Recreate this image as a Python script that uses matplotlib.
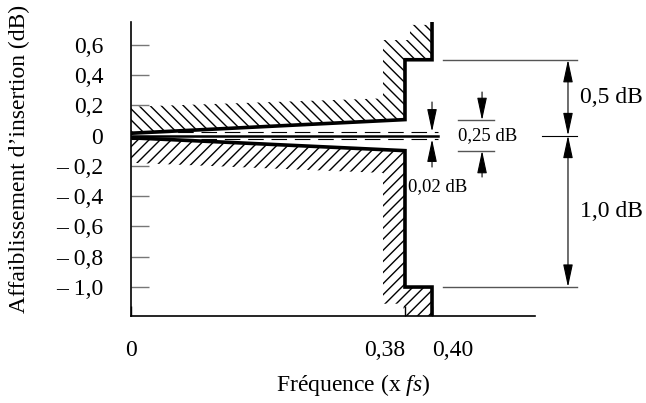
import numpy as np
import matplotlib
matplotlib.use("Agg")
import matplotlib.pyplot as plt

plt.rcParams['font.family'] = ['Liberation Serif', 'DejaVu Serif']
plt.rcParams['mathtext.fontset'] = 'custom'
plt.rcParams['mathtext.rm'] = 'Liberation Serif'
plt.rcParams['mathtext.it'] = 'Liberation Serif:italic'
plt.rcParams['hatch.linewidth'] = 1.0

# gabarit (frequence en x fs, affaiblissement en dB)
mask_f = [0, 0.38, 0.38, 0.40, 0.40]
mask_upper_db = [0.015, 0.105, 0.5, 0.5, 0.75]
mask_lower_db = [-0.015, -0.10, -1.0, -1.0, -1.19]

hatch_up_f = [0, 0.38, 0.38, 0.40, 0.40, 0.3837, 0.3837, 0.3495, 0.3495, 0]
hatch_up_db = [0.015, 0.105, 0.5, 0.5, 0.73, 0.73, 0.63, 0.63, 0.245, 0.19]
hatch_lo_f = [0, 0.38, 0.38, 0.40, 0.40, 0.378, 0.378, 0.3495, 0.3495, 0]
hatch_lo_db = [-0.015, -0.10, -1.0, -1.0, -1.19, -1.19, -1.11, -1.11, -0.247, -0.18]

ripple_f = [0, 0.4083]
ripple_db = [0.025, -0.025]

yticks = [0.6, 0.4, 0.2, 0, -0.2, -0.4, -0.6, -0.8, -1.0]
ytick_labels = ['0,6', '0,4', '0,2', '0', '– 0,2', '– 0,4', '– 0,6', '– 0,8', '– 1,0']
xticks = [0, 0.38, 0.40]
xtick_labels = ['0', '0,38', '0,40']

# axe des frequences comprime entre 0 et 0,38
_xp = [-1.0, 0, 0.38, 0.40, 2.0]
_cp = [-1.0, 0, 0.38, 0.4175, 2.0175]
def fwd(x):
    return np.interp(x, _xp, _cp)
def inv(c):
    return np.interp(c, _cp, _xp)

fig = plt.figure(figsize=(6.46, 4.03), dpi=100)
ax = fig.add_axes([0.2028, 0.2159, 0.7972, 0.7295])
ax.set_xscale('function', functions=(fwd, inv))
ax.set_xlim(0, 0.6968)
ax.set_ylim(-1.191, 0.749)

ax.fill(hatch_up_f, hatch_up_db, facecolor='none', edgecolor='black', lw=0, hatch='\\\\\\', zorder=1)
ax.fill(hatch_lo_f, hatch_lo_db, facecolor='none', edgecolor='black', lw=0, hatch='///', zorder=1)

ax.plot(mask_f, mask_upper_db, color='black', lw=2.6, solid_joinstyle='miter', zorder=4)
ax.plot(mask_f, mask_lower_db, color='black', lw=2.6, solid_joinstyle='miter', zorder=4)

ax.plot(ripple_f, [0, 0], color='black', lw=1.8, zorder=4)
for y in ripple_db:
    ax.plot(ripple_f, [y, y], color='black', lw=0.8, dashes=(14, 7), zorder=4)

for s in ['top', 'right']:
    ax.spines[s].set_visible(False)
ax.spines['left'].set_linewidth(1.2)
ax.spines['bottom'].set_linewidth(1.2)
ax.spines['bottom'].set_bounds(0, 0.5428)

ax.set_yticks(yticks)
ax.set_yticklabels(ytick_labels, fontsize=17)
ax.tick_params(axis='y', direction='in', length=13, width=1, color='#777777', pad=20)
ax.set_xticks(xticks)
ax.set_xticklabels(xtick_labels, fontsize=17)
ax.tick_params(axis='x', direction='in', length=7, width=1, color='black', pad=17)
xl = ax.get_xticklabels()
xl[1].set_ha('right')
xl[2].set_ha('left')

ax.set_ylabel('Affaiblissement d’insertion (dB)', fontsize=17)
ax.yaxis.set_label_coords(-0.196, 0.535)
ax.set_xlabel('Fréquence (x $\\mathit{fs}$)', fontsize=17)
ax.xaxis.set_label_coords(0.431, -0.19)

# cotes a droite
arr = dict(arrowstyle='-|>,head_length=1.4,head_width=0.3', color='black', lw=0.8,
           shrinkA=0, shrinkB=0, mutation_scale=10)
arr2 = dict(arr, arrowstyle='<|-|>,head_length=1.4,head_width=0.3')
thin = dict(color='#555555', lw=1)

ax.plot([0.4152, 0.6011], [0.5, 0.5], **thin)
ax.plot([0.4152, 0.6011], [-1.0, -1.0], **thin)
ax.plot([0.5526, 0.6011], [0, 0], color='black', lw=0.8)
ax.annotate('', xy=(0.5886, 0.5), xytext=(0.5886, 0), arrowprops=arr2)
ax.annotate('', xy=(0.5886, -1.0), xytext=(0.5886, 0), arrowprops=arr2)
ax.text(0.6053, 0.25, '0,5 dB', fontsize=17, va='center', ha='left')
ax.text(0.6053, -0.5, '1,0 dB', fontsize=17, va='center', ha='left')

ax.plot([0.436, 0.486], [0.1, 0.1], **thin)
ax.plot([0.436, 0.486], [-0.1, -0.1], **thin)
ax.annotate('', xy=(0.4694, 0.1), xytext=(0.4694, 0.287), arrowprops=arr)
ax.annotate('', xy=(0.4694, -0.1), xytext=(0.4694, -0.274), arrowprops=arr)
ax.text(0.4777, 0.0, '0,25 dB', fontsize=13.5, va='center', ha='center')

ax.annotate('', xy=(0.40, 0.025), xytext=(0.40, 0.221), arrowprops=arr)
ax.annotate('', xy=(0.40, -0.025), xytext=(0.40, -0.208), arrowprops=arr)
ax.text(0.3822, -0.34, '0,02 dB', fontsize=13.5, va='center', ha='left')

fig.savefig('out.png', dpi=100)
